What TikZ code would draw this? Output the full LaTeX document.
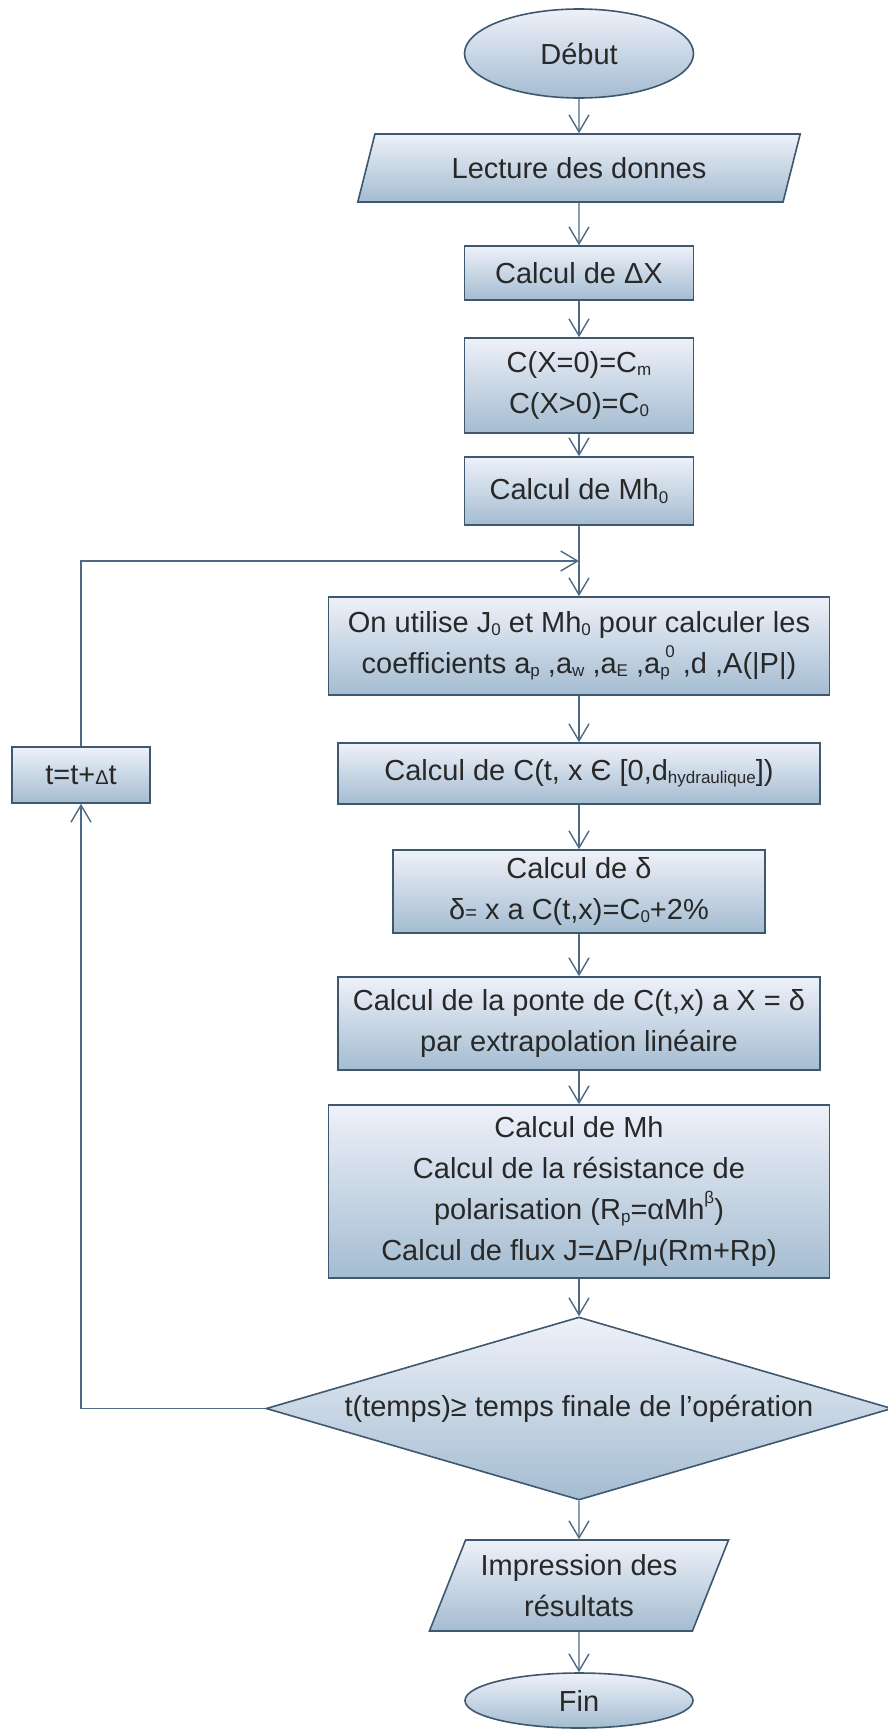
\documentclass[tikz,border=0pt]{standalone}
\usepackage{fontspec}
\setmainfont{Liberation Sans}
\usetikzlibrary{shapes.geometric,arrows.meta}
\definecolor{edgec}{RGB}{62,88,112}
\definecolor{linec}{RGB}{78,106,132}
\definecolor{topc}{RGB}{238,241,249}
\definecolor{botc}{RGB}{164,188,209}
\definecolor{txtc}{RGB}{40,40,40}
\newcommand\lsub[1]{\raisebox{-0.12em}{\fontsize{17}{17}\selectfont #1}}
\newcommand\lsup[1]{\raisebox{0.55em}{\fontsize{17}{17}\selectfont #1}}
\begin{document}
\begin{tikzpicture}[x=1pt,y=-1pt,
  box/.style={draw=edgec, line width=1.6pt, top color=topc, bottom color=botc,
    text=txtc, font=\fontsize{29}{41}\selectfont, align=center, inner sep=0pt},
  rbox/.style={box, rectangle},
  ellip/.style={box, ellipse},
  para/.style={box, trapezium, trapezium left angle=63.3, trapezium right angle=116.7,
    trapezium stretches=true},
  cond/.style={box, diamond, aspect=3.42},
  conn/.style={draw=linec, line width=1.4pt,
    -{Straight Barb[length=17pt,width=20pt,line width=1.4pt]}}
]
\fill[white] (0,0) rectangle (887,1729);
\useasboundingbox (0,0) rectangle (887,1729);

\node[ellip, minimum width=229pt, minimum height=89pt] (debut) at (579,53.5) {Début};
\node[para, minimum width=443pt, minimum height=68pt] (lecture) at (579,168) {Lecture des donnes};
\node[rbox, minimum width=229pt, minimum height=54pt] (dx) at (579,273) {Calcul de ΔX};
\node[rbox, minimum width=229pt, minimum height=95pt] (cinit) at (579,385.5)
  {C(X=0)=C\lsub{m}\\C(X>0)=C\lsub{0}};
\node[rbox, minimum width=229pt, minimum height=68pt] (mh0) at (579,491) {Calcul de Mh\lsub{0}};
\node[rbox, minimum width=501pt, minimum height=98pt] (coef) at (579,646)
  {On utilise J\lsub{0} et Mh\lsub{0} pour calculer les\\
   coefficients a\lsub{p} ,a\lsub{w} ,a\lsub{E} ,a\lsub{p}\kern-0.15em\lsup{0} ,d ,A(|P|)};
\node[rbox, minimum width=482pt, minimum height=61pt] (ct) at (579,773.5)
  {Calcul de C(t, x Є [0,d\lsub{hydraulique}])};
\node[rbox, minimum width=372pt, minimum height=83pt] (delta) at (579,891.5)
  {Calcul de δ\\δ{\fontsize{20}{20}\selectfont =} x a C(t,x)=C\lsub{0}+2\%};
\node[rbox, minimum width=482pt, minimum height=93pt] (ponte) at (579,1023.5)
  {Calcul de la ponte de C(t,x) a X = δ\\par extrapolation linéaire};
\node[rbox, minimum width=501pt, minimum height=173pt] (mh) at (579,1191.5)
  {Calcul de Mh\\Calcul de la résistance de\\polarisation (R\lsub{p}=αMh\lsup{β})\\
   Calcul de flux J=ΔP/μ(Rm+Rp)};
\node[cond, minimum width=626pt, minimum height=183pt] (test) at (579,1408.5)
  {t(temps)≥ temps finale de l'opération};
\node[para, minimum width=300pt, minimum height=91pt] (impr) at (579,1585.5)
  {Impression des\\résultats};
\node[ellip, minimum width=228pt, minimum height=55pt] (fin) at (579,1700.5) {Fin};
\node[rbox, minimum width=138pt, minimum height=56pt] (tstep) at (81,775)
  {t=t+{\fontsize{20}{20}\selectfont Δ}t};

\coordinate (join) at (579,561);

\draw[conn] (debut.south) -- (lecture.north);
\draw[conn] (lecture.south) -- (dx.north);
\draw[conn] (dx.south) -- (cinit.north);
\draw[conn] (cinit.south) -- (mh0.north);
\draw[conn] (mh0.south) -- (coef.north);
\draw[conn] (coef.south) -- (ct.north);
\draw[conn] (ct.south) -- (delta.north);
\draw[conn] (delta.south) -- (ponte.north);
\draw[conn] (ponte.south) -- (mh.north);
\draw[conn] (mh.south) -- (test.north);
\draw[conn] (test.south) -- (impr.north);
\draw[conn] (impr.south) -- (fin.north);
\draw[conn] (test.west) -| (tstep.south);
\draw[conn] (tstep.north) |- (join);
\end{tikzpicture}
\end{document}
